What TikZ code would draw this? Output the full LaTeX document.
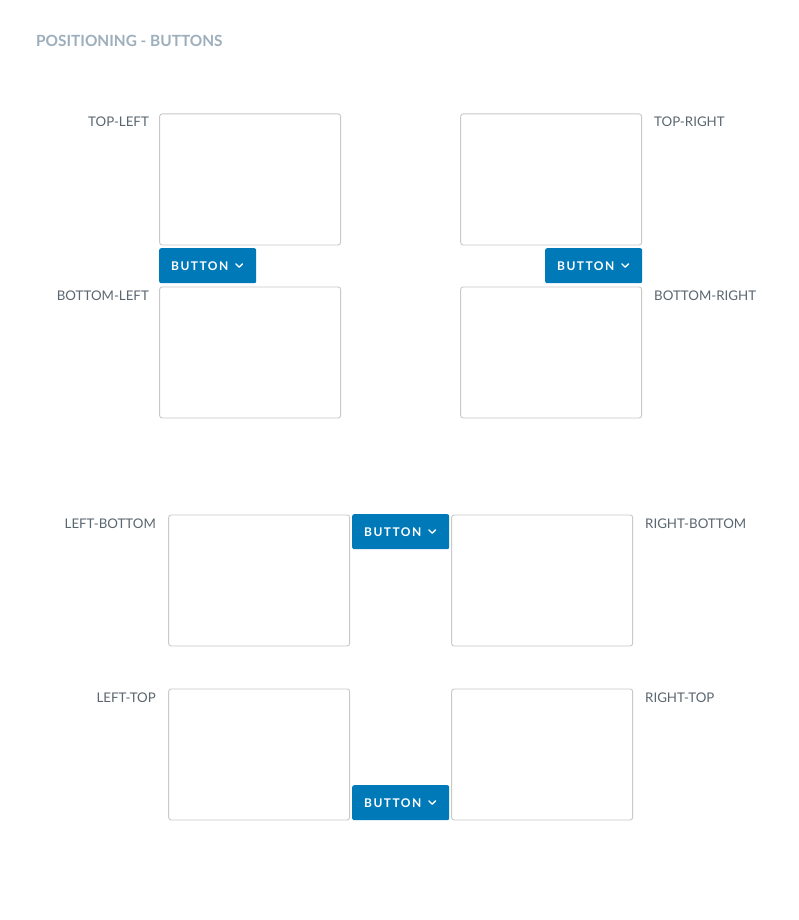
\documentclass[tikz,border=0pt]{standalone}
\usepackage{fontspec}
\setmainfont{Lato}
\newfontfamily\btnfont[LetterSpace=12]{Lato}
\usetikzlibrary{calc}
\definecolor{btnblue}{HTML}{0079B8}
\definecolor{boxline}{HTML}{C9C9C9}
\definecolor{labelgray}{HTML}{5B6770}
\definecolor{titlegray}{HTML}{9DAFBC}

\newcommand{\chevron}[1]{%
  \draw[white, line width=1.4pt, line cap=round, line join=round]
    ($(#1.east)+(-20.5,-1.8)$) -- ++(3.3,3.3) -- ++(3.3,-3.3);}

\begin{document}
\begin{tikzpicture}[x=1pt,y=-1pt]
\useasboundingbox[fill=white] (0,0) rectangle (798,920);

\node[anchor=base west, inner sep=0pt, text=titlegray, font=\fontsize{15.4}{18}\selectfont\bfseries] (title) at (36,47) {POSITIONING - BUTTONS};

% boxes
\begin{scope}[every node/.style={draw=boxline, line width=0.9pt, fill=white, rounded corners=2.5pt,
              anchor=north west, minimum width=181pt, minimum height=131pt, inner sep=0pt}]
    \node (tl) at (159.2,113.5) {};
    \node (bl) at (159.2,286.5) {};
    \node (tr) at (460.2,113.5) {};
    \node (br) at (460.2,286.5) {};
    \node (lb) at (168.2,514.5) {};
    \node (rb) at (451.2,514.5) {};
    \node (lt) at (168.2,688.5) {};
    \node (rt) at (451.2,688.5) {};
\end{scope}

% buttons
\begin{scope}[every node/.style={fill=btnblue, rounded corners=2pt, anchor=north west, text=white,
              minimum width=97pt, minimum height=35pt, inner sep=0pt,
              font=\btnfont\fontsize{12}{14}\selectfont\bfseries}]
    \node (b1) at (159,248) {\makebox[73pt][l]{BUTTON}};
    \node (b2) at (545,248) {\makebox[73pt][l]{BUTTON}};
    \node (b3) at (352,514) {\makebox[73pt][l]{BUTTON}};
    \node (b4) at (352,785) {\makebox[73pt][l]{BUTTON}};
\end{scope}
\chevron{b1}
\chevron{b2}
\chevron{b3}
\chevron{b4}

% labels
\begin{scope}[every node/.style={text=labelgray, inner sep=0pt, font=\fontsize{13.3}{16}\selectfont}]
    \node[anchor=base east] (ltl) at (149,127) {TOP-LEFT};
    \node[anchor=base east] (lbl) at (149,300) {BOTTOM-LEFT};
    \node[anchor=base west] (ltr) at (654,127) {TOP-RIGHT};
    \node[anchor=base west] (lbr) at (654,300) {BOTTOM-RIGHT};
    \node[anchor=base east] (llb) at (156,528) {LEFT-BOTTOM};
    \node[anchor=base west] (lrb) at (645,528) {RIGHT-BOTTOM};
    \node[anchor=base east] (llt) at (156,702) {LEFT-TOP};
    \node[anchor=base west] (lrt) at (645,702) {RIGHT-TOP};
\end{scope}
\end{tikzpicture}
\end{document}
